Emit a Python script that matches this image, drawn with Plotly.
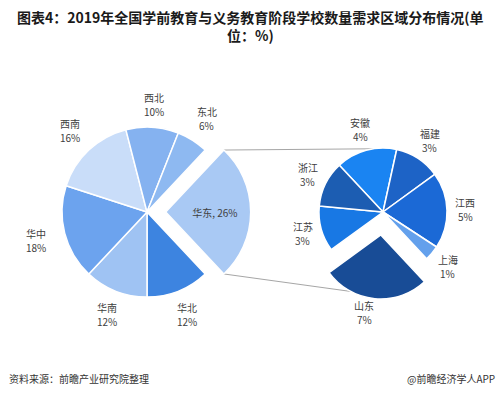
import math
import plotly.graph_objects as go

# ---- data ----
region_labels = ["华东", "华北", "华南", "华中", "西南", "西北", "东北"]
region_values = [26, 12, 12, 18, 16, 10, 6]
region_colors = ["#a9c9f4", "#3d84e0", "#9fc3f3", "#6ca3ee", "#c9ddf9", "#85b2f0", "#8eb9f1"]

east_labels = ["安徽", "福建", "江西", "上海", "山东", "江苏", "浙江"]
east_values = [4, 3, 5, 1, 7, 3, 3]
east_colors = ["#1a84f2", "#1d63c6", "#1b69d6", "#63a0ec", "#184c96", "#1878e4", "#1c5db2"]

title_text = "图表4：2019年全国学前教育与义务教育阶段学校数量需求区域分布情况(单<br>位：%)"
source_text = "资料来源：前瞻产业研究院整理"
brand_text = "@前瞻经济学人APP"

W, H = 500, 395
FONT = "Noto Sans CJK SC"
LABEL_COLOR = "#404040"

# ---- geometry (pixels) ----
L_CX, L_CY, L_R, L_PULL = 147, 212, 85, 0.22
R_CX, R_CY, R_R, R_PULL = 383, 212, 64, 0.36
R_ROT = -43


def domain(cx, cy, r, pull):
    half = r * (1 + pull)
    return dict(x=[(cx - half) / W, (cx + half) / W],
                y=[1 - (cy + half) / H, 1 - (cy - half) / H])


def mid_angles(values, rotation):
    tot = sum(values)
    out, cum = [], 0
    for v in values:
        out.append(rotation + (cum + v / 2) / tot * 360)
        cum += v
    return out


total_left = sum(region_values)
left_rotation = 90 - region_values[0] / total_left * 360 / 2  # first slice centred at 3 o'clock
left_pull = [L_PULL] + [0] * (len(region_values) - 1)
left_pos = ["inside"] + ["none"] * (len(region_values) - 1)

right_pull = [R_PULL if l == "山东" else 0 for l in east_labels]

fig = go.Figure()
fig.add_trace(go.Pie(
    labels=region_labels, values=region_values, sort=False, direction="clockwise",
    rotation=left_rotation, pull=left_pull, domain=domain(L_CX, L_CY, L_R, L_PULL),
    marker=dict(colors=region_colors, line=dict(color="white", width=1.5)),
    textposition=left_pos, texttemplate="%{label}, %{value}%", insidetextorientation="horizontal",
    insidetextfont=dict(family=FONT, size=10, color=LABEL_COLOR),
    showlegend=False, hoverinfo="label+value",
))
fig.add_trace(go.Pie(
    labels=east_labels, values=east_values, sort=False, direction="clockwise",
    rotation=R_ROT, pull=right_pull, domain=domain(R_CX, R_CY, R_R, R_PULL),
    marker=dict(colors=east_colors, line=dict(color="white", width=1.5)),
    textinfo="none", showlegend=False, hoverinfo="label+value",
))

annotations = []


def text_ann(text, x, y, size=10, color=LABEL_COLOR, xanchor="center", yanchor="middle"):
    return dict(text=text, x=x / W, y=1 - y / H, xref="paper", yref="paper",
                xanchor=xanchor, yanchor=yanchor, showarrow=False, align="center",
                font=dict(family=FONT, size=size, color=color))


def add_label(cx, cy, dist, ang_deg, label, value):
    a = math.radians(ang_deg)
    x = cx + dist * math.sin(a)
    y = cy - dist * math.cos(a)
    annotations.append(text_ann(label, x, y - 7))
    annotations.append(text_ann(f"{value}%", x, y + 7))


for lab, val, ang, pl in zip(region_labels, region_values,
                             mid_angles(region_values, left_rotation), left_pull):
    if pl:
        continue
    d = L_R + 22 + 8 * abs(math.sin(math.radians(ang)))
    add_label(L_CX, L_CY, d, ang, lab, val)

for lab, val, ang, pl in zip(east_labels, east_values,
                             mid_angles(east_values, R_ROT), right_pull):
    d = R_R + 18 + 4 * abs(math.cos(math.radians(ang))) + pl * R_R * 0.7
    add_label(R_CX, R_CY, d, ang + (5 if pl else 0), lab, val)

# connector lines between exploded slice and secondary pie
half_ang = math.radians(region_values[0] / total_left * 360 / 2)
lx = L_CX + L_PULL * L_R
p_top_left = (lx + L_R * math.cos(half_ang), L_CY - L_R * math.sin(half_ang))
p_bot_left = (lx + L_R * math.cos(half_ang), L_CY + L_R * math.sin(half_ang))
a_top = math.radians(-9)
p_top_right = (R_CX + R_R * math.sin(a_top), R_CY - R_R * math.cos(a_top))
sd_mid = math.radians(mid_angles(east_values, R_ROT)[east_labels.index("山东")])
ox, oy = R_PULL * R_R * math.sin(sd_mid), -R_PULL * R_R * math.cos(sd_mid)
a_bot = math.radians(208)
p_bot_right = (R_CX + ox + R_R * math.sin(a_bot), R_CY + oy - R_R * math.cos(a_bot))


def px(p):
    return p[0] / W, 1 - p[1] / H


shapes = []
for a, b in [(p_top_left, p_top_right), (p_bot_left, p_bot_right)]:
    x0, y0 = px(a)
    x1, y1 = px(b)
    shapes.append(dict(type="line", xref="paper", yref="paper", x0=x0, y0=y0, x1=x1, y1=y1,
                       line=dict(color="#a6a6a6", width=1), layer="below"))

annotations += [
    text_ann("<b>" + title_text + "</b>", W / 2, 5, size=14, color="#1a1a1a", yanchor="top"),
    text_ann(source_text, 7, 378, color="#333333", xanchor="left"),
    text_ann(brand_text, 497, 378, color="#333333", xanchor="right"),
]

fig.update_layout(
    width=W, height=H, margin=dict(l=0, r=0, t=0, b=0),
    paper_bgcolor="white", plot_bgcolor="white",
    font=dict(family=FONT, color=LABEL_COLOR),
    shapes=shapes, annotations=annotations,
)
fig.write_html("out.html", config={"displayModeBar": False},
               post_script="document.body.style.margin='0';document.body.style.overflow='hidden';")
